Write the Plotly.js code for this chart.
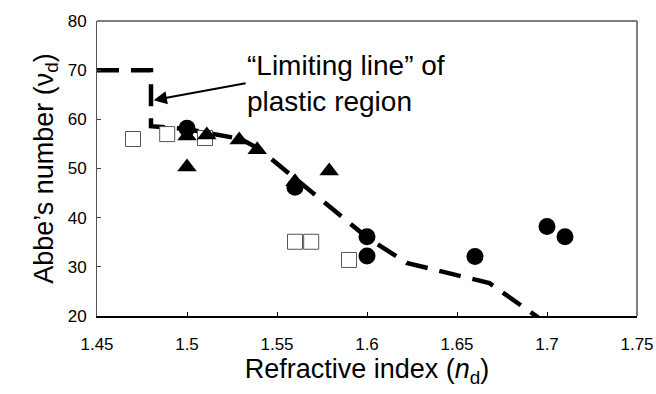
<!DOCTYPE html>
<html>
<head>
<meta charset="utf-8">
<script src="https://cdn.plot.ly/plotly-3.0.1.min.js"></script>
<style>html,body{margin:0;padding:0;background:#fff}#chart{width:656px;height:394px}</style>
</head>
<body>
<div id="chart"></div>
<script>
// Limiting line of plastic region
const lineX = [1.45, 1.48, 1.48, 1.5, 1.53, 1.54, 1.6, 1.622, 1.668, 1.697];
const lineY = [70, 70, 58.6, 58, 56, 54, 36, 30.8, 26.7, 19.2];
// Filled circles
const circleX = [1.5, 1.56, 1.6, 1.6, 1.66, 1.7, 1.71];
const circleY = [58.2, 46.2, 36.1, 32.2, 32.1, 38.2, 36.1];
// Filled triangles
const triX = [1.5, 1.5, 1.511, 1.529, 1.539, 1.56, 1.579];
const triY = [50.3, 56.6, 56.8, 55.8, 53.8, 47.3, 49.5];
// Open squares
const sqX = [1.47, 1.489, 1.51, 1.56, 1.569, 1.59];
const sqY = [56, 57, 56.2, 35.1, 35.1, 31.4];

const xTicks = [1.45, 1.5, 1.55, 1.6, 1.65, 1.7, 1.75];
const xTickText = ['1.45', '1.5', '1.55', '1.6', '1.65', '1.7', '1.75'];
const yTicks = [20, 30, 40, 50, 60, 70, 80];

const traces = [
  {x: lineX, y: lineY, mode: 'lines', line: {color: '#000', width: 4.5, dash: '22px,12px'}, cliponaxis: false},
  {x: sqX, y: sqY, mode: 'markers', marker: {symbol: 'square', size: 15, color: '#fff', line: {color: '#555', width: 1}}},
  {x: circleX, y: circleY, mode: 'markers', marker: {symbol: 'circle', size: 17, color: '#000'}},
  {x: triX, y: triY, mode: 'markers', marker: {symbol: 'triangle-up', size: 17, color: '#000'}}
];

const layout = {
  width: 656, height: 394,
  margin: {l: 97, r: 19, t: 21, b: 78},
  paper_bgcolor: '#fff', plot_bgcolor: '#fff',
  showlegend: false,
  font: {family: 'Arial, "Liberation Sans", sans-serif', color: '#000'},
  xaxis: {
    range: [1.45, 1.75], tickvals: xTicks, ticktext: xTickText,
    ticks: 'inside', ticklen: 4, tickcolor: '#000', tickwidth: 1,
    showline: true, linecolor: '#000', linewidth: 1.5,
    showgrid: false, zeroline: false,
    tickfont: {size: 17}, ticklabelstandoff: 12,
    title: {text: 'Refractive index (<i>n</i><sub>d</sub>)', font: {size: 27}, standoff: 4}
  },
  yaxis: {
    range: [20, 80], tickvals: yTicks,
    ticks: 'inside', ticklen: 4, tickcolor: '#444', tickwidth: 1,
    showline: true, linecolor: '#555', linewidth: 1,
    showgrid: false, zeroline: false,
    tickfont: {size: 17}, ticklabelstandoff: 6,
    title: {text: 'Abbe\u2019s number (\u03bd<sub>d</sub>)', font: {size: 27}, standoff: 6}
  },
  shapes: [
    {type: 'line', xref: 'paper', yref: 'paper', x0: 0, x1: 1, y0: 1, y1: 1, line: {color: '#555', width: 1.5}},
    {type: 'line', xref: 'paper', yref: 'paper', x0: 1, x1: 1, y0: 0, y1: 1, line: {color: '#555', width: 1.5}}
  ],
  annotations: [
    {x: 1.4815, y: 63.9, xref: 'x', yref: 'y', ax: 1.5334, ay: 67.4, axref: 'x', ayref: 'y',
     showarrow: true, arrowhead: 2, arrowsize: 1.2, arrowwidth: 2.2, arrowcolor: '#000', text: ''},
    {x: 1.532, y: 67.2, xref: 'x', yref: 'y', xanchor: 'left', yanchor: 'middle', showarrow: false, align: 'left',
     text: '\u201cLimiting line\u201d of<br>plastic region', font: {size: 28, color: '#000'}}
  ]
};

Plotly.newPlot('chart', traces, layout, {displayModeBar: false, staticPlot: true});
</script>
</body>
</html>
